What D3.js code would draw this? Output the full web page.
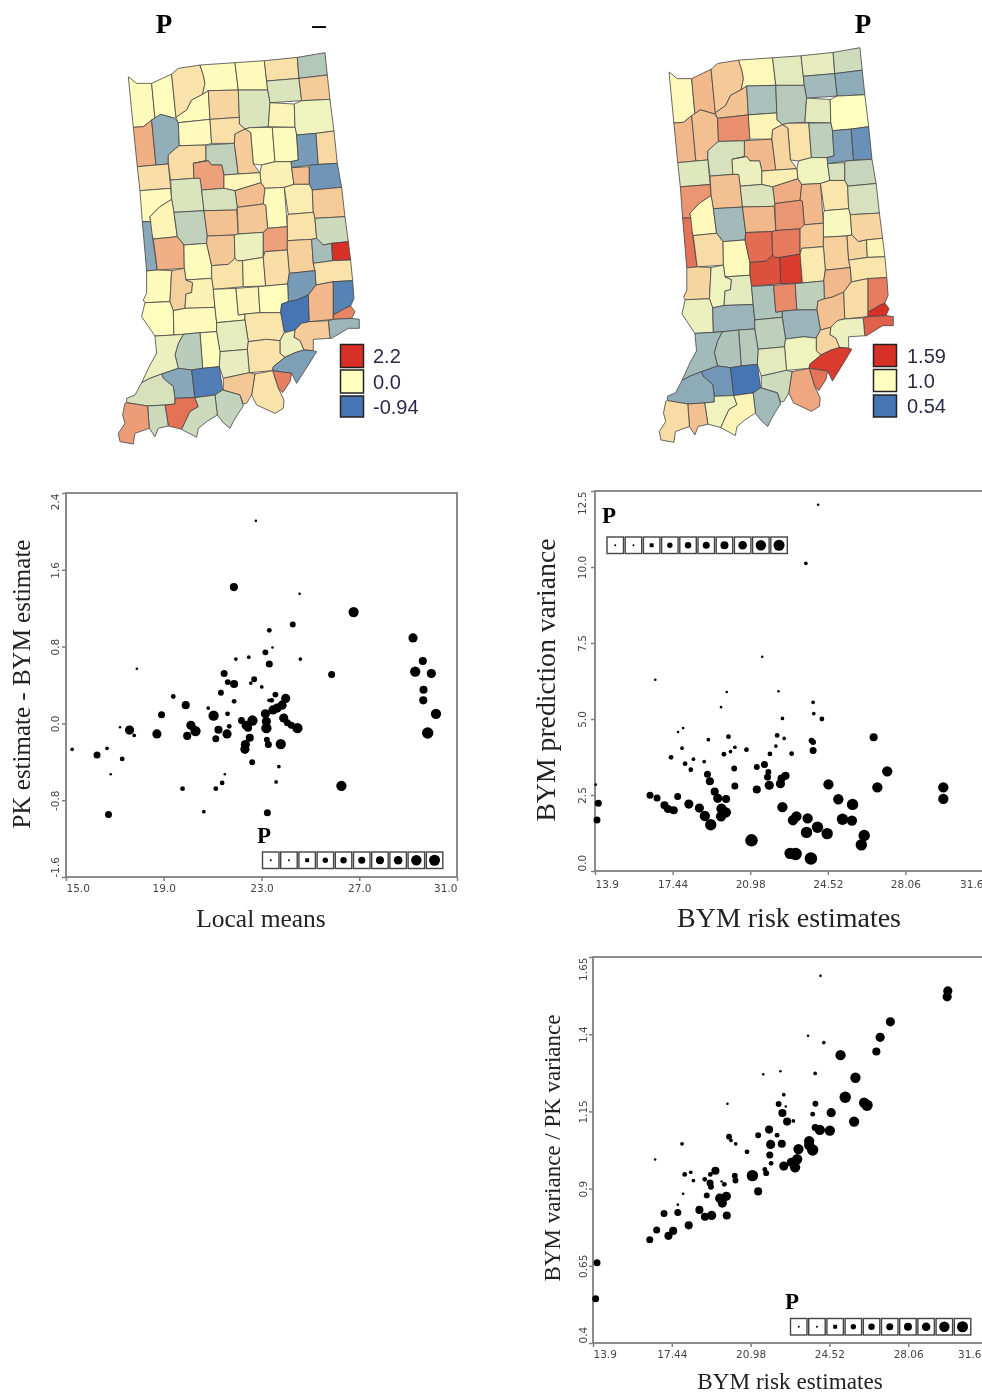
<!doctype html>
<html>
<head>
<meta charset="utf-8">
<title>Indiana risk maps and scatterplots</title>
<script src="https://d3js.org/d3.v7.min.js"></script>
<style>
body { margin: 0; background: #fff; }
svg { display: block; filter: blur(0.35px); }
.tick text { font-family: "DejaVu Sans", sans-serif; font-size: 10.5px; fill: #444; }
.domain { display: none; }
.tick line { stroke: #808080; stroke-width: 1.5; }
.frame { fill: none; stroke: #7f7f7f; stroke-width: 1.8; }
.serif { font-family: "Liberation Serif", serif; fill: #222; }
.head { font-family: "Liberation Serif", serif; font-weight: bold; fill: #000; }
.leg { font-family: "Liberation Sans", sans-serif; font-size: 20px; fill: #2a2a4a; }
</style>
</head>
<body>
<div id="chart"></div>
<script>
var countyNames = ["Lake","Porter","LaPorte","St Joseph","Elkhart","LaGrange","Steuben","Noble","DeKalb","Starke","Marshall","Kosciusko","Whitley","Allen","Newton","Jasper","Pulaski","Fulton","Wabash","Huntington","Wells","Adams","White","Cass","Miami","Grant","Blackford","Jay","Benton","Carroll","Howard","Tipton","Madison","Delaware","Randolph","Warren","Tippecanoe","Clinton","Fountain","Montgomery","Boone","Hamilton","Henry","Wayne","Vermillion","Parke","Putnam","Hendricks","Marion","Hancock","Rush","Fayette","Union","Morgan","Johnson","Shelby","Franklin","Decatur","Vigo","Clay","Owen","Sullivan","Greene","Monroe","Brown","Bartholomew","Jennings","Ripley","Dearborn","Ohio","Switzerland","Jefferson","Jackson","Lawrence","Scott","Washington","Clark","Floyd","Harrison","Orange","Crawford","Martin","Daviess","Knox","Pike","Dubois","Gibson","Warrick","Perry","Spencer","Vanderburgh","Posey"];

// county outlines (map units, same order as countyNames)
var countyOutlines = [
[85,230,110,250,155,250,165,355,155,360,130,380,100,382],
[155,250,215,222,228,352,225,355,182,343,165,355],
[215,222,235,205,300,195,310,225,315,250,308,283,275,300,260,330,228,352],
[300,195,405,188,415,270,325,272,308,283,315,250,310,225],
[405,188,493,182,500,243,503,270,415,270],
[493,182,592,172,597,235,500,243],
[592,172,675,158,682,225,597,235],
[500,243,597,235,605,302,510,308,503,270],
[597,235,682,225,690,298,605,302],
[228,352,260,330,275,300,308,283,325,272,330,358,235,368],
[325,272,415,270,418,352,330,358],
[415,270,503,270,510,308,505,380,450,383,435,387,418,372,418,352],
[510,308,583,312,585,382,505,380],
[583,312,605,302,690,298,702,393,648,400,590,405,585,382],
[100,382,130,380,155,360,168,495,112,500],
[155,360,182,343,225,355,235,368,238,437,225,447,205,465,205,492,168,495],
[235,368,330,358,335,430,318,435,238,437],
[330,358,418,352,418,372,435,387,405,402,403,430,335,430],
[450,383,517,382,525,485,485,495,460,492,452,397,435,387],
[517,382,585,382,590,405,595,480,573,485,525,485],
[590,405,648,400,655,493,632,495,575,503,573,485,595,480],
[648,400,702,393,712,490,655,493],
[205,465,225,447,238,437,318,435,318,482,280,490,282,535,212,540,205,492],
[318,435,403,430,415,522,372,525,365,495,335,495,325,482,280,490,318,482],
[403,430,405,402,435,387,452,397,460,492,480,518,415,522],
[485,495,525,485,573,485,575,503,582,553,553,562,495,565,483,548,480,518],
[575,503,628,500,628,553,582,553],
[632,495,712,490,725,562,637,570,628,553,628,500],
[112,500,168,495,205,492,212,565,120,572],
[280,490,325,482,335,495,365,495,372,525,372,565,305,570,300,535,282,535],
[372,525,415,522,480,518,483,548,405,572,372,565],
[405,572,483,548,495,565,490,612,412,622],
[495,565,553,562,562,680,503,685,497,615,490,612],
[553,562,582,553,628,553,637,570,640,637,565,643],
[637,570,725,562,735,650,645,655,640,637],
[120,572,212,565,215,598,180,620,150,650,152,665,127,665],
[212,540,282,535,300,535,305,570,312,632,222,637,215,598],
[305,570,372,565,405,572,412,622,410,630,312,632],
[150,650,180,620,215,598,222,637,232,710,160,717,150,690,152,665],
[222,637,312,632,322,708,320,730,252,735,232,710],
[312,632,410,630,415,702,403,705,322,708],
[412,622,490,612,497,615,503,685,490,697,415,702],
[562,650,565,643,640,637,645,655,650,715,635,718,562,722],
[645,655,735,650,745,725,695,730,670,735,650,715],
[127,665,152,665,158,715,172,810,140,813],
[160,717,232,710,252,735,253,805,172,810],
[252,735,320,730,335,797,335,835,258,840,253,805],
[322,708,403,705,405,775,385,793,335,797,320,730],
[403,705,415,702,490,697,490,772,428,782,412,782,405,775],
[490,697,503,685,562,680,562,750,495,755,490,772],
[562,722,635,718,640,790,645,812,568,820,562,750],
[635,718,650,715,670,735,695,730,698,782,640,790],
[695,730,745,725,752,780,698,782],
[335,797,385,793,405,775,412,782,428,782,430,860,340,868,335,835],
[428,782,490,772,497,858,430,860],
[490,772,495,755,562,750,568,820,563,852,497,858],
[640,790,698,782,752,780,758,842,700,845,648,855,645,812],
[568,820,645,812,648,855,625,885,590,900,565,905,563,852],
[140,813,172,810,215,812,213,850,210,905,135,908,130,900,140,880],
[215,812,253,805,258,840,278,848,275,878,258,882,255,925,220,932,210,905,213,850],
[258,840,335,835,340,868,345,922,255,925,258,882,275,878,278,848],
[135,908,210,905,220,932,222,1005,165,1008,125,950],
[220,932,255,925,345,922,350,968,350,995,300,998,250,1003,222,1005],
[340,868,408,865,415,945,435,942,435,960,350,968,345,922],
[408,865,475,860,480,938,435,942,415,945],
[475,860,497,858,563,852,565,905,545,912,542,938,480,938],
[545,912,565,905,590,900,625,885,628,965,605,970,585,990,553,998,542,938],
[625,885,648,855,700,845,700,945,700,958,628,965],
[700,845,758,842,762,895,752,918,735,925,700,945],
[700,945,735,925,752,918,765,935,755,955,700,958],
[685,962,700,958,755,955,778,958,778,985,745,985,695,1015,690,1015],
[585,990,605,970,628,965,685,962,690,1015,640,1018,640,1052,612,1050,600,1022,582,1012],
[435,942,480,938,542,938,553,998,540,1022,500,1018,445,1025,435,960],
[350,968,435,960,445,1025,442,1048,360,1055,350,995],
[553,998,585,990,582,1012,600,1022,612,1050,585,1058,555,1072,540,1060,540,1022],
[445,1025,500,1018,540,1022,540,1060,555,1072,520,1100,518,1112,448,1118,442,1048],
[555,1072,585,1058,612,1050,640,1052,650,1055,625,1095,590,1150,575,1120,518,1112,520,1100],
[518,1112,575,1120,570,1145,548,1178,535,1165],
[465,1122,518,1112,535,1165,552,1200,550,1225,525,1240,470,1215,455,1185],
[360,1055,442,1048,448,1118,370,1135,358,1100],
[370,1135,448,1118,465,1122,455,1185,440,1210,430,1212,420,1185,370,1170],
[300,998,350,995,360,1055,358,1100,308,1105],
[250,1003,300,998,308,1105,275,1110,235,1105,225,1065,235,1030],
[165,1008,222,1005,250,1003,235,1030,225,1065,235,1105,185,1122,150,1135,125,1148,150,1095,170,1060],
[185,1122,235,1105,275,1110,285,1193,225,1195,220,1160,190,1135],
[275,1110,308,1105,358,1100,368,1170,345,1185,285,1193],
[185,1122,190,1135,220,1160,225,1195,225,1212,195,1215,143,1218,80,1208,80,1195,105,1185,125,1148,150,1135],
[195,1215,225,1212,225,1195,285,1193,295,1220,270,1235,245,1288,205,1278,200,1245],
[345,1185,368,1170,420,1185,430,1218,415,1240,400,1265,390,1285,370,1268,352,1245],
[285,1193,345,1185,352,1245,320,1265,295,1285,290,1312,245,1288,270,1235,295,1220],
[143,1218,195,1215,200,1245,205,1278,175,1285,165,1310,148,1285],
[80,1208,143,1218,148,1285,105,1300,100,1332,60,1325,55,1300,75,1270,68,1245,75,1210]
];

// county values, estimated from the fill colours
var diffValues = [0.05,0.02,0.3,0.03,0.05,0.33,-0.38,-0.18,0.55,0.03,0.45,-0.18,0.12,-0.08,0.85,-0.55,0.04,0.33,0.03,0.03,-0.68,0.4,0.38,-0.32,0.55,0.15,0.7,-0.72,0.35,1.0,0.08,0.7,0.03,0.2,0.55,0.05,-0.18,-0.2,0.12,-0.32,0.65,0.6,0.3,-0.25,-0.6,0.85,0.03,0.6,-0.1,1.0,0.5,-0.45,2.2,0.3,0.1,0.35,0.3,-0.68,0.05,0.5,0.15,0.02,0.05,0.03,0.12,0.02,-0.94,0.75,-0.85,1.3,-0.5,0.55,0.28,-0.13,-0.1,0.3,-0.65,1.35,0.3,-0.12,0.6,0.03,-0.35,-0.1,-0.6,-0.88,-0.2,1.5,-0.3,-0.25,-0.25,1.05];
var riskValues = [1.02,1.2,1.15,1.02,0.93,0.94,0.88,0.77,0.72,1.17,0.79,0.82,0.93,1.0,1.2,1.18,1.32,1.03,1.08,0.84,0.68,0.63,0.9,1.2,1.12,0.96,0.9,0.86,0.92,0.95,1.05,1.24,1.2,1.07,0.9,1.3,1.18,0.91,1.02,0.77,1.2,1.3,0.98,1.12,1.4,1.1,1.02,1.42,1.38,1.15,1.13,1.12,1.03,1.5,1.56,1.06,1.07,1.2,1.12,0.96,0.93,0.95,0.75,0.8,1.33,0.84,1.18,1.1,1.37,1.59,1.45,0.95,0.75,0.84,1.12,0.96,1.56,1.4,1.25,0.93,0.88,0.82,0.8,0.77,0.65,0.54,0.72,0.96,0.77,1.03,1.18,1.1];

var diffLegend = [2.2, 0.0, -0.94];
var diffLegendText = ["2.2", "0.0", "-0.94"];
var riskLegend = [1.59, 1.0, 0.54];
var riskLegendText = ["1.59", "1.0", "0.54"];
var mapColors = ["#4575b4", "#ffffbf", "#d73027"];

// scatter 1: local means vs PK - BYM
var meansX = [22.77,21.87,24.56,26.77,24.28,23.32,29.2,23.45,23.16,22.48,21.95,24.59,29.6,23.32,17.9,21.47,25.87,29.29,29.95,22.7,21.62,21.88,22.56,23.01,29.63,23.57,21.34,19.39,23.99,23.31,23.42,21.88,29.62,19.9,23.84,23.64,23.47,20.82,21.61,23.16,18.91,21.04,30.14,23.91,22.18,22.63,23.2,24.06,22.37,20.11,21.68,24.22,22.45,23.2,24.47,17.21,17.6,20.3,21.24,18.72,21.59,17.79,19.96,29.8,22.52,21.13,23.22,23.28,23.79,22.34,22.32,15.25,16.68,16.27,17.3,22.62,23.71,16.83,21.5,21.39,23.6,26.27,19.77,21.13,20.64,23.24,16.74];
var diffY = [2.11,1.42,1.35,1.16,1.03,0.97,0.89,0.79,0.74,0.69,0.67,0.67,0.65,0.62,0.57,0.52,0.51,0.54,0.52,0.46,0.43,0.41,0.42,0.38,0.35,0.3,0.32,0.28,0.26,0.24,0.24,0.23,0.24,0.19,0.19,0.16,0.14,0.16,0.1,0.1,0.09,0.08,0.1,0.055,0.03,0.03,0.02,0.007,-0.02,-0.02,-0.03,-0.02,-0.045,-0.05,-0.05,-0.04,-0.07,-0.08,-0.066,-0.11,-0.11,-0.125,-0.13,-0.1,-0.15,-0.16,-0.17,-0.22,-0.215,-0.22,-0.27,-0.27,-0.26,-0.33,-0.37,-0.405,-0.45,-0.53,-0.53,-0.62,-0.61,-0.65,-0.68,-0.68,-0.92,-0.93,-0.95];
var diffSize = [1,6,1,8,4,3,7,1,4,2,2,2,6,5,1,5,5,8,7,4,4,6,2,2,6,4,4,3,7,2,3,3,6,6,7,7,7,2,3,7,5,8,8,7,5,8,7,5,7,7,3,5,6,8,8,1,7,8,6,7,7,2,6,9,6,5,4,5,8,7,7,2,2,5,3,4,2,1,1,3,2,8,3,3,2,5,5];

// scatter 2: BYM risk vs BYM prediction variance
var bymX = [24.08,23.52,21.53,16.65,22.27,19.91,19.65,23.85,23.88,22.45,24.25,17.92,17.69,22.21,19.99,22.53,19.07,23.78,23.85,26.61,22.15,20.28,17.87,20.81,23.85,20.08,19.78,21.88,22.87,17.37,18.39,18.88,18.01,21.63,21.28,18.27,20.25,21.81,27.23,19.03,22.59,21.77,22.41,19.14,21.85,22.36,24.55,26.78,29.79,20.28,21.28,13.93,19.36,17.67,16.41,16.73,19.5,19.88,25.0,29.79,14.05,17.07,18.18,25.65,22.45,17.23,17.49,18.66,19.67,19.87,19.65,18.91,13.99,23.09,22.93,23.6,25.19,25.62,19.18,24.05,23.55,24.49,26.18,26.05,21.04,22.8,23.05,23.75];
var bymVar = [12.05,10.12,7.05,6.29,5.91,5.89,5.39,5.55,5.18,5.02,5.0,4.7,4.57,4.46,4.42,4.36,4.32,4.29,4.24,4.4,4.11,4.07,4.04,3.99,3.96,3.93,3.84,3.85,3.86,3.74,3.68,3.6,3.53,3.5,3.42,3.33,3.37,3.26,3.28,3.18,3.13,3.09,3.04,2.95,2.82,2.87,2.85,2.75,2.75,2.8,2.68,2.84,2.61,2.45,2.49,2.4,2.39,2.37,2.36,2.37,2.23,2.16,2.2,2.19,2.1,2.04,2.0,2.07,2.05,1.93,1.8,1.81,1.68,1.8,1.67,1.73,1.7,1.66,1.52,1.44,1.27,1.23,1.17,0.86,1.01,0.58,0.56,0.41];
var bymVarSize = [1,2,1,1,1,1,1,2,2,2,3,1,1,3,3,2,2,4,4,6,2,2,2,3,5,2,3,3,3,3,2,2,3,5,4,3,4,4,8,5,6,5,6,6,7,7,8,8,8,5,6,1,6,5,5,5,7,6,8,8,5,6,7,9,8,6,6,7,8,8,8,8,5,8,8,8,9,8,9,9,9,9,9,9,10,9,10,10];

// scatter 3: BYM risk vs variance ratio
var ratioX = [24.12,29.84,29.81,27.26,23.56,26.8,24.27,26.63,25.02,22.32,23.88,21.55,25.69,25.23,22.47,19.94,26.08,26.21,23.89,22.24,22.56,22.41,24.6,23.77,22.9,22.62,25.63,23.88,24.09,24.54,21.81,21.32,22.17,20.01,20.1,17.9,20.31,23.61,21.88,22.38,23.61,23.13,23.77,20.82,21.84,16.69,23.07,22.81,21.9,22.47,22.98,21.62,19.4,18.29,21.68,18.02,19.17,20.27,21.06,18.92,20.3,18.41,19.68,19.16,19.8,19.2,21.32,17.95,19.01,19.89,19.59,19.71,17.71,18.68,17.71,17.09,18.93,19.23,19.91,18.2,16.76,17.5,17.29,16.45,14.08,14.02];
var ratioY = [1.589,1.54,1.521,1.44,1.395,1.39,1.373,1.344,1.332,1.28,1.273,1.27,1.259,1.196,1.204,1.175,1.178,1.17,1.175,1.174,1.166,1.145,1.146,1.141,1.119,1.117,1.117,1.098,1.09,1.088,1.091,1.073,1.073,1.068,1.056,1.045,1.045,1.054,1.043,1.045,1.041,1.028,1.025,1.019,1.009,0.994,0.995,0.985,0.982,0.973,0.969,0.962,0.958,0.953,0.95,0.946,0.946,0.942,0.942,0.93,0.926,0.926,0.923,0.918,0.914,0.906,0.891,0.883,0.878,0.875,0.869,0.853,0.848,0.831,0.823,0.819,0.809,0.813,0.813,0.781,0.766,0.763,0.747,0.734,0.66,0.543];
var ratioSize = [1,7,7,7,1,7,2,6,8,1,2,1,8,9,2,1,8,9,4,4,1,6,7,3,2,6,8,5,8,8,6,4,3,4,2,2,2,8,7,6,8,8,9,3,5,1,8,7,3,7,8,3,6,2,4,3,3,4,9,3,4,2,1,5,3,4,6,1,4,7,7,7,1,6,5,5,6,7,6,6,5,6,6,5,5,5];

var legendRadii = [1,1,2.2,2.7,3.2,3.5,4,4.3,5.2,5.5];
var legendShapes = [d3.symbolCircle,d3.symbolCircle,d3.symbolSquare,d3.symbolCircle,d3.symbolCircle,d3.symbolCircle,d3.symbolCircle,d3.symbolCircle,d3.symbolCircle,d3.symbolCircle];

var svg = d3.select("#chart").append("svg").attr("width", 982).attr("height", 1393);

// ----- maps
function drawMap(values, colorDomain, xRange, yRange) {
    var color = d3.scaleLinear().domain(colorDomain).range(mapColors);
    var x = d3.scaleLinear().domain([55, 778]).range(xRange);
    var y = d3.scaleLinear().domain([158, 1335]).range(yRange);
    var line = d3.line().x(function(d){ return x(d[0]); }).y(function(d){ return y(d[1]); });
    svg.append("g").selectAll("path").data(countyOutlines).enter().append("path")
        .attr("d", function(d){ return line(d3.pairs(d).filter(function(p, i){ return i % 2 == 0; })) + "Z"; })
        .attr("fill", function(d, i){ return color(values[i]); })
        .attr("stroke", "#444").attr("stroke-width", 0.8).attr("stroke-linejoin", "round");
    return color;
}

var diffColor = drawMap(diffValues, [-0.94, 0, 2.2], [118.3, 359.3], [52.7, 445]);
var riskColor = drawMap(riskValues, [0.54, 1.0, 1.59], [659.3, 893.3], [47.7, 443.3]);

function mapLegend(values, labels, color, boxX, boxY, boxH, textX, baselines) {
    values.forEach(function(v, i) {
        svg.append("rect").attr("x", boxX).attr("y", boxY[i]).attr("width", 23).attr("height", boxH[i])
            .attr("fill", color(v)).attr("stroke", "#222").attr("stroke-width", 1.5);
        svg.append("text").attr("class", "leg").attr("x", textX).attr("y", baselines[i]).text(labels[i]);
    });
}
mapLegend(diffLegend, diffLegendText, diffColor, 340.5, [344.5, 370, 396], [23, 23, 21], 373, [363, 389, 414]);
mapLegend(riskLegend, riskLegendText, riskColor, 873.5, [344.5, 369.5, 395], [22, 22, 22], 907, [363, 388, 413]);

function head(x, y, txt, size, anchor) {
    svg.append("text").attr("class", "head").attr("x", x).attr("y", y)
        .attr("text-anchor", anchor || "middle").attr("font-size", size).text(txt);
}
head(164, 33, "P", 27);
head(319, 33, "\u2013", 27);
head(863, 33, "P", 27);

// ----- scatters
function radius(c) { return 1.3 + 0.55 * (c - 1); }

function scatter(o) {
    var x = d3.scaleLinear().domain([+o.xTicks[0], +o.xTicks[o.xTicks.length - 1]]).range([o.left, o.right]);
    var y = d3.scaleLinear().domain([+o.yTicks[0], +o.yTicks[o.yTicks.length - 1]]).range([o.bottom, o.top]);
    var g = svg.append("g");

    g.append("rect").attr("class", "frame").attr("x", o.left).attr("y", o.top)
        .attr("width", o.right - o.left).attr("height", o.bottom - o.top);

    var xAxis = d3.axisBottom(x).tickValues(o.xTicks.map(Number))
        .tickFormat(function(d, i){ return o.xTicks[i]; }).tickSize(4).tickPadding(o.xPad);
    var xg = g.append("g").attr("transform", "translate(0," + o.bottom + ")").call(xAxis);
    xg.selectAll("text").attr("text-anchor", function(d, i){
        return i == 0 ? "start" : (i == o.xTicks.length - 1 ? "end" : "middle");
    }).attr("dx", function(d, i){ return i == o.xTicks.length - 1 ? (o.lastDx || 0) : 0; });

    var yAxis = d3.axisLeft(y).tickValues(o.yTicks.map(Number))
        .tickFormat(function(d, i){ return o.yTicks[i]; }).tickSize(4);
    var yg = g.append("g").attr("transform", "translate(" + o.left + ",0)").call(yAxis);
    yg.selectAll("text").attr("transform", "rotate(-90)").attr("x", 0).attr("y", -o.yPad).attr("dy", 0)
        .attr("text-anchor", function(d, i){
            return i == 0 ? "start" : (i == o.yTicks.length - 1 ? "end" : "middle");
        });

    g.selectAll("circle").data(o.xs).enter().append("circle")
        .attr("cx", function(d){ return x(d); })
        .attr("cy", function(d, i){ return y(o.ys[i]); })
        .attr("r", function(d, i){ return radius(o.sizes[i]); })
        .attr("fill", "#000");

    g.append("text").attr("class", "serif").attr("x", o.xTitle[1]).attr("y", o.xTitle[2])
        .attr("text-anchor", "middle").attr("font-size", o.xTitle[3]).text(o.xTitle[0]);
    g.append("text").attr("class", "serif")
        .attr("transform", "translate(" + o.yTitle[1] + "," + o.yTitle[2] + ") rotate(-90)")
        .attr("text-anchor", "middle").attr("font-size", o.yTitle[3]).text(o.yTitle[0]);

    // size legend
    var boxes = g.append("g").attr("transform", "translate(" + o.legend[0] + "," + o.legend[1] + ")");
    legendRadii.forEach(function(r, i) {
        var cell = boxes.append("g").attr("transform", "translate(" + (i * 18.2) + ",0)");
        cell.append("rect").attr("width", 16.5).attr("height", 16.5)
            .attr("fill", "#fff").attr("stroke", "#444").attr("stroke-width", 1.4);
        cell.append("path").attr("transform", "translate(8.25,8.25)")
            .attr("d", d3.symbol().type(legendShapes[i]).size(Math.PI * r * r));
    });
    head(o.legend[2], o.legend[3], "P", 23, "start");
}

scatter({
    xTicks: ["15.0","19.0","23.0","27.0","31.0"], yTicks: ["-1.6","-0.8","0.0","0.8","1.6","2.4"],
    left: 66, right: 457, top: 493, bottom: 877, xPad: 4, yPad: 7,
    xs: meansX, ys: diffY, sizes: diffSize,
    xTitle: ["Local means", 261, 927, 25.5], yTitle: ["PK estimate - BYM estimate", 30, 684, 25],
    legend: [262.5, 852, 257, 843]
});
scatter({
    xTicks: ["13.9","17.44","20.98","24.52","28.06","31.6"], yTicks: ["0.0","2.5","5.0","7.5","10.0","12.5"],
    left: 595, right: 983, top: 491, bottom: 871, xPad: 6, yPad: 9,
    xs: bymX, ys: bymVar, sizes: bymVarSize,
    xTitle: ["BYM risk estimates", 789, 927, 28], yTitle: ["BYM prediction variance", 555, 680, 27.7],
    legend: [607, 537, 602, 523]
});
scatter({
    xTicks: ["13.9","17.44","20.98","24.52","28.06","31.6"], yTicks: ["0.4","0.65","0.9","1.15","1.4","1.65"],
    left: 593, right: 987, top: 957, bottom: 1343, xPad: 4, yPad: 6, lastDx: -6,
    xs: ratioX, ys: ratioY, sizes: ratioSize,
    xTitle: ["BYM risk estimates", 790, 1389, 23.2], yTitle: ["BYM variance / PK variance", 560, 1148, 23],
    legend: [790.5, 1318.5, 785, 1309]
});
</script>
</body>
</html>
